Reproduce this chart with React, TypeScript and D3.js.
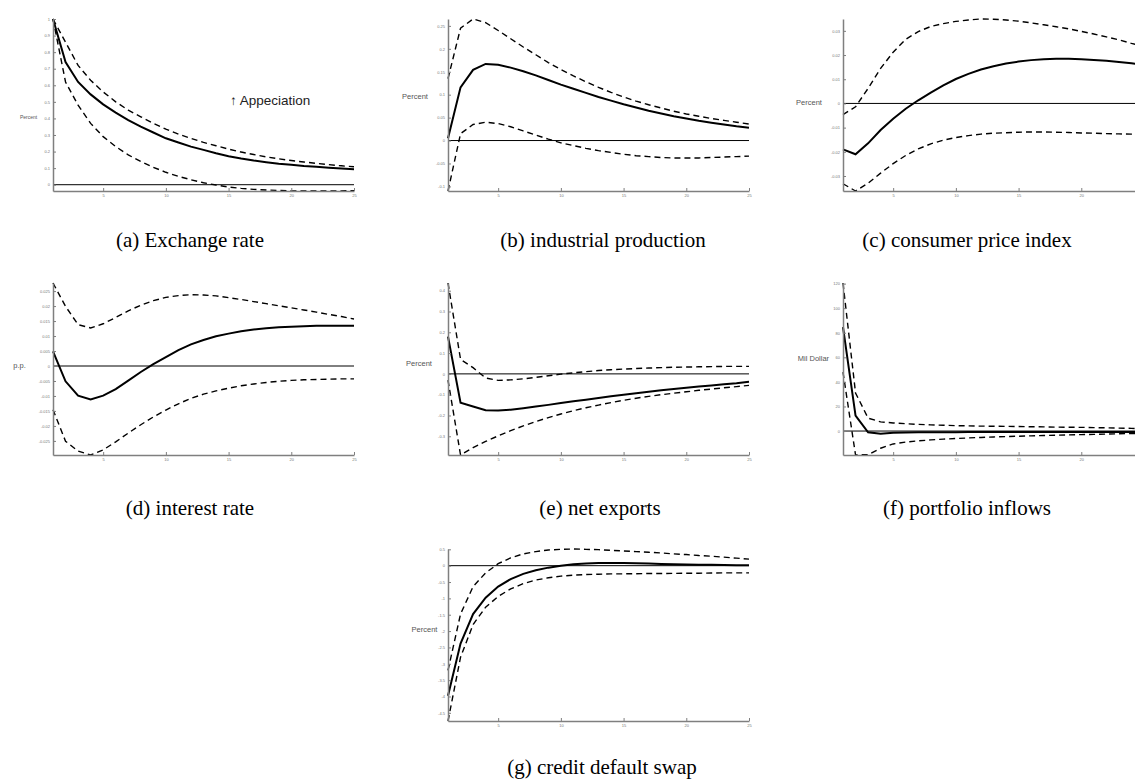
import React, { useEffect, useRef } from "react";
import * as d3 from "d3";

// horizon (months after the shock)
const periods = [1, 2, 3, 4, 5, 6, 7, 8, 9, 10, 11, 12, 13, 14, 15, 16, 17, 18, 19, 20, 21, 22, 23, 24, 25];
const xTicks = [5, 10, 15, 20, 25];
const xTicksCut = [5, 10, 15, 20]; // right column runs past the page edge

// (a) exchange rate
const exchangeMid = [1.0, 0.74, 0.62, 0.545, 0.485, 0.435, 0.39, 0.35, 0.315, 0.28, 0.255, 0.23, 0.21, 0.19, 0.172, 0.158, 0.146, 0.136, 0.127, 0.12, 0.113, 0.108, 0.103, 0.098, 0.094];
const exchangeUpper = [1.0, 0.86, 0.72, 0.63, 0.56, 0.5, 0.45, 0.41, 0.37, 0.335, 0.305, 0.28, 0.255, 0.235, 0.215, 0.197, 0.182, 0.168, 0.156, 0.146, 0.137, 0.129, 0.121, 0.114, 0.108];
const exchangeLower = [1.0, 0.62, 0.48, 0.37, 0.29, 0.23, 0.18, 0.14, 0.105, 0.075, 0.05, 0.03, 0.012, -0.002, -0.014, -0.022, -0.028, -0.032, -0.035, -0.037, -0.038, -0.038, -0.038, -0.037, -0.036];
const exchangeTicks = [0, 0.1, 0.2, 0.3, 0.4, 0.5, 0.6, 0.7, 0.8, 0.9, 1];

// (b) industrial production
const productionMid = [0.005, 0.116, 0.154, 0.167, 0.165, 0.159, 0.151, 0.142, 0.132, 0.122, 0.113, 0.104, 0.095, 0.087, 0.079, 0.072, 0.065, 0.059, 0.053, 0.048, 0.043, 0.039, 0.035, 0.031, 0.028];
const productionUpper = [0.135, 0.245, 0.265, 0.257, 0.24, 0.222, 0.204, 0.187, 0.17, 0.155, 0.141, 0.128, 0.116, 0.105, 0.095, 0.086, 0.078, 0.071, 0.064, 0.058, 0.053, 0.048, 0.044, 0.04, 0.036];
const productionLower = [-0.11, 0.015, 0.035, 0.04, 0.037, 0.03, 0.021, 0.012, 0.003, -0.005, -0.011, -0.017, -0.022, -0.026, -0.03, -0.033, -0.035, -0.037, -0.038, -0.038, -0.038, -0.037, -0.036, -0.035, -0.034];
const productionTicks = [-0.1, -0.05, 0, 0.05, 0.1, 0.15, 0.2, 0.25];

// (c) consumer price index
const cpiMid = [-0.019, -0.021, -0.0165, -0.011, -0.0063, -0.0022, 0.0013, 0.0045, 0.0075, 0.0101, 0.0122, 0.014, 0.0154, 0.0165, 0.0173, 0.0179, 0.0183, 0.0185, 0.0185, 0.0183, 0.018, 0.0176, 0.0171, 0.0166, 0.016];
const cpiUpper = [-0.0046, -0.0014, 0.0062, 0.0145, 0.0212, 0.0265, 0.0297, 0.0318, 0.033, 0.0339, 0.0345, 0.0349, 0.0348, 0.0345, 0.034, 0.0333, 0.0325, 0.0317, 0.0308, 0.0298, 0.0287, 0.0275, 0.0263, 0.0248, 0.0235];
const cpiLower = [-0.0332, -0.0362, -0.033, -0.0288, -0.0249, -0.0215, -0.0188, -0.0167, -0.0152, -0.0141, -0.0133, -0.0127, -0.0123, -0.0121, -0.0119, -0.0118, -0.0118, -0.0119, -0.012, -0.0122, -0.0123, -0.0125, -0.0126, -0.0127, -0.0128];
const cpiTicks = [-0.03, -0.02, -0.01, 0, 0.01, 0.02, 0.03];

// (d) interest rate
const rateMid = [0.0049, -0.0051, -0.0099, -0.0112, -0.0099, -0.0077, -0.0049, -0.002, 0.0006, 0.003, 0.0053, 0.0072, 0.0087, 0.0099, 0.0108, 0.0116, 0.0122, 0.0126, 0.0129, 0.0131, 0.0133, 0.0134, 0.0134, 0.0134, 0.0134];
const rateUpper = [0.0277, 0.0199, 0.0138, 0.0127, 0.0141, 0.0162, 0.0184, 0.0203, 0.0218, 0.0229, 0.0235, 0.0238, 0.0237, 0.0234, 0.0228, 0.0222, 0.0215, 0.0208, 0.0201, 0.0194, 0.0187, 0.018, 0.0172, 0.0165, 0.0157];
const rateLower = [-0.0146, -0.0251, -0.0284, -0.0297, -0.028, -0.0253, -0.0224, -0.0196, -0.017, -0.0147, -0.0126, -0.0108, -0.0094, -0.0083, -0.0074, -0.0066, -0.006, -0.0055, -0.0051, -0.0048, -0.0046, -0.0045, -0.0044, -0.0043, -0.0043];
const rateTicks = [-0.025, -0.02, -0.015, -0.01, -0.005, 0, 0.005, 0.01, 0.015, 0.02, 0.025];

// (e) net exports
const exportsMid = [0.179, -0.139, -0.157, -0.175, -0.176, -0.172, -0.165, -0.157, -0.149, -0.14, -0.132, -0.124, -0.116, -0.108, -0.1, -0.093, -0.086, -0.079, -0.073, -0.067, -0.061, -0.056, -0.05, -0.045, -0.038];
const exportsUpper = [0.437, 0.07, 0.03, -0.02, -0.031, -0.029, -0.024, -0.017, -0.009, -0.001, 0.005, 0.011, 0.016, 0.02, 0.023, 0.026, 0.028, 0.03, 0.032, 0.033, 0.034, 0.035, 0.036, 0.036, 0.036];
const exportsLower = [-0.03, -0.39, -0.355, -0.325, -0.298, -0.273, -0.25, -0.229, -0.21, -0.193, -0.177, -0.163, -0.15, -0.138, -0.127, -0.117, -0.108, -0.1, -0.093, -0.086, -0.079, -0.073, -0.067, -0.061, -0.055];
const exportsTicks = [-0.3, -0.2, -0.1, 0, 0.1, 0.2, 0.3, 0.4];

// (f) portfolio inflows
const inflowsMid = [84.5, 12.5, -1.0, -2.2, -1.3, -1.1, -1.0, -0.9, -0.9, -0.9, -0.8, -0.8, -0.8, -0.8, -0.8, -0.8, -0.8, -0.8, -0.8, -0.8, -0.8, -0.8, -0.8, -0.8, -0.8];
const inflowsUpper = [120.5, 31, 10.5, 7.5, 6.6, 6.0, 5.4, 5.0, 4.7, 4.4, 4.2, 4.0, 3.9, 3.8, 3.7, 3.5, 3.4, 3.2, 3.1, 3.0, 2.8, 2.6, 2.4, 2.2, 1.9];
const inflowsLower = [48, -19.5, -19.2, -14, -10.5, -9, -8, -7.2, -6.6, -6.1, -5.6, -5.2, -4.8, -4.5, -4.2, -3.9, -3.6, -3.4, -3.1, -2.9, -2.7, -2.5, -2.2, -2.0, -1.8];
const inflowsTicks = [0, 20, 40, 60, 80, 100, 120];

// (g) credit default swap
const cdsMid = [-3.98, -2.38, -1.48, -0.98, -0.64, -0.41, -0.25, -0.14, -0.06, 0.0, 0.04, 0.07, 0.08, 0.085, 0.08, 0.075, 0.065, 0.055, 0.045, 0.035, 0.03, 0.025, 0.02, 0.015, 0.012];
const cdsUpper = [-3.2, -1.48, -0.64, -0.22, 0.06, 0.24, 0.36, 0.43, 0.48, 0.5, 0.51, 0.5, 0.49, 0.47, 0.45, 0.43, 0.41, 0.39, 0.36, 0.34, 0.31, 0.29, 0.26, 0.23, 0.2];
const cdsLower = [-4.75, -2.8, -1.8, -1.27, -0.94, -0.71, -0.55, -0.44, -0.37, -0.32, -0.29, -0.27, -0.26, -0.25, -0.25, -0.245, -0.24, -0.24, -0.235, -0.23, -0.23, -0.225, -0.22, -0.22, -0.22];
const cdsTicks = [-4.5, -4, -3.5, -3, -2.5, -2, -1.5, -1, -0.5, 0, 0.5];

const plotW = 301;
const plotH = 172;

const panels = [
  { mid: exchangeMid, upper: exchangeUpper, lower: exchangeLower, ticks: exchangeTicks, xt: xTicks, label: "Percent", caption: "(a) Exchange rate", left: 53, top: 19, lx: 28.5, ly: 118, ls: 5, cx: 190, cy: 247 },
  { mid: productionMid, upper: productionUpper, lower: productionLower, ticks: productionTicks, xt: xTicks, label: "Percent", caption: "(b) industrial production", left: 448, top: 19, lx: 415, ly: 97, ls: 7.5, cx: 603, cy: 247 },
  { mid: cpiMid, upper: cpiUpper, lower: cpiLower, ticks: cpiTicks, xt: xTicksCut, label: "Percent", caption: "(c) consumer price index", left: 843, top: 19, lx: 809, ly: 103, ls: 7.5, cx: 967, cy: 247 },
  { mid: rateMid, upper: rateUpper, lower: rateLower, ticks: rateTicks, xt: xTicks, label: "p.p.", caption: "(d) interest rate", left: 53, top: 283, lx: 19.5, ly: 366, ls: 7.5, cx: 190, cy: 515 },
  { mid: exportsMid, upper: exportsUpper, lower: exportsLower, ticks: exportsTicks, xt: xTicks, label: "Percent", caption: "(e) net exports", left: 448, top: 283, lx: 419, ly: 364, ls: 7.5, cx: 600, cy: 515 },
  { mid: inflowsMid, upper: inflowsUpper, lower: inflowsLower, ticks: inflowsTicks, xt: xTicksCut, label: "Mil Dollar", caption: "(f) portfolio inflows", left: 843, top: 283, lx: 813.5, ly: 359, ls: 7.5, cx: 967, cy: 515 },
  { mid: cdsMid, upper: cdsUpper, lower: cdsLower, ticks: cdsTicks, xt: xTicks, label: "Percent", caption: "(g) credit default swap", left: 448, top: 549, lx: 424.5, ly: 630, ls: 7.5, cx: 602, cy: 774 },
];

const axisGrey = "#7f7f7f";
const fmt = (d: any) => String(Math.round(d * 1e6) / 1e6);

function drawPanel(svg: any, p: any) {
  const x = d3.scaleLinear().domain([1, 25]).range([p.left, p.left + plotW]);
  const all = [...p.mid, ...p.upper, ...p.lower];
  const y = d3.scaleLinear().domain(d3.extent(all) as any).range([p.top + plotH, p.top]);

  const g = svg.append("g");

  // zero line
  g.append("line")
    .attr("x1", x(1))
    .attr("x2", x(25))
    .attr("y1", y(0))
    .attr("y2", y(0))
    .attr("stroke", "#000")
    .attr("stroke-width", 1);

  const line = d3
    .line<number>()
    .x((d, i) => x(periods[i]))
    .y((d) => y(d));

  [p.upper, p.lower].forEach((band: number[]) => {
    g.append("path")
      .attr("d", line(band))
      .attr("fill", "none")
      .attr("stroke", "#000")
      .attr("stroke-width", 1.4)
      .attr("stroke-dasharray", "6 4");
  });

  g.append("path")
    .attr("d", line(p.mid))
    .attr("fill", "none")
    .attr("stroke", "#000")
    .attr("stroke-width", 2);

  // axes, ticks pointing into the plot
  const yAxis = g
    .append("g")
    .attr("transform", "translate(" + p.left + ",0)")
    .call(d3.axisLeft(y).tickValues(p.ticks).tickSizeInner(-3).tickSizeOuter(0).tickPadding(3).tickFormat(fmt));

  const xAxis = g
    .append("g")
    .attr("transform", "translate(0," + (p.top + plotH) + ")")
    .call(d3.axisBottom(x).tickValues(p.xt).tickSizeInner(-3).tickSizeOuter(0).tickPadding(3).tickFormat(fmt));

  [yAxis, xAxis].forEach((a: any) => {
    a.select(".domain").attr("stroke", axisGrey).attr("stroke-width", 1.5);
    a.selectAll(".tick line").attr("stroke", axisGrey);
    a.selectAll(".tick text").attr("fill", "#777").style("font-size", "4px").style("font-family", "Liberation Sans, Arial, sans-serif");
  });

  g.append("text")
    .attr("x", p.lx)
    .attr("y", p.ly)
    .attr("text-anchor", "middle")
    .attr("dominant-baseline", "middle")
    .style("font-family", "Liberation Sans, Arial, sans-serif")
    .style("font-size", p.ls + "px")
    .attr("fill", "#555")
    .text(p.label);

  g.append("text")
    .attr("x", p.cx)
    .attr("y", p.cy)
    .attr("text-anchor", "middle")
    .style("font-family", "Liberation Serif, Times New Roman, serif")
    .style("font-size", "21px")
    .attr("fill", "#000")
    .text(p.caption);
}

export default function App() {
  const ref = useRef<SVGSVGElement>(null);

  useEffect(() => {
    const svg = d3.select(ref.current);
    svg.selectAll("*").remove();
    panels.forEach((p) => drawPanel(svg, p));

    // annotation on the exchange rate panel
    svg
      .append("text")
      .attr("x", 230)
      .attr("y", 101)
      .attr("dominant-baseline", "middle")
      .style("font-family", "Liberation Sans, Arial, sans-serif")
      .style("font-size", "13.5px")
      .attr("fill", "#222")
      .text("↑ Appeciation");
  }, []);

  return (
    <svg
      ref={ref}
      width={1135}
      height={783}
      style={{ position: "absolute", left: 0, top: 0, background: "#fff" }}
    />
  );
}
